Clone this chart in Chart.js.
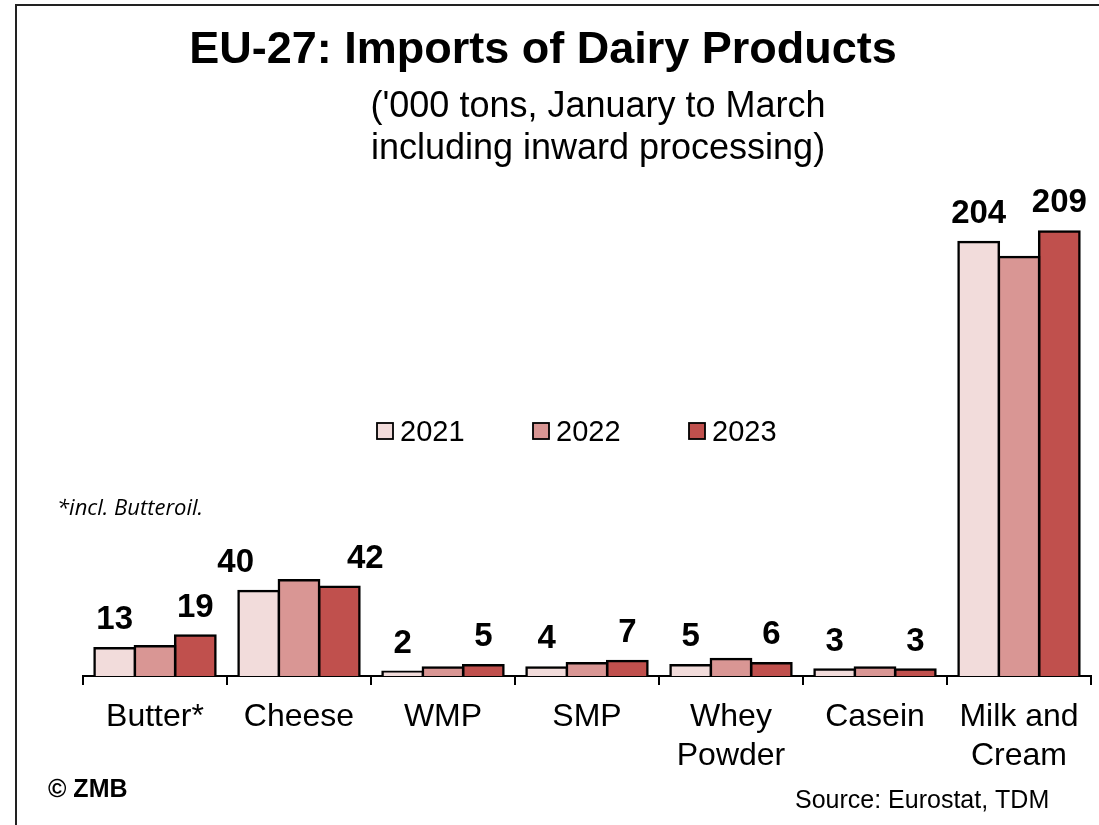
<!DOCTYPE html>
<html>
<head>
<meta charset="utf-8">
<title>EU-27: Imports of Dairy Products</title>
<script src="https://cdn.jsdelivr.net/npm/chart.js@4.4.0/dist/chart.umd.min.js"></script>
<style>
    body { margin: 0; background: #fff; }
    canvas { display: block; }
</style>
</head>
<body>
<canvas id="dairy_chart" width="1099" height="825"></canvas>
<script>

    // '000 tons, January to March (2022 is not labelled)
    const categories = ['Butter*', 'Cheese', 'WMP', 'SMP', ['Whey', 'Powder'], 'Casein', ['Milk and', 'Cream']];
    const years = ['2021', '2022', '2023'];
    const imports2021 = [13, 40, 2, 4, 5, 3, 204];
    const imports2022 = [14, 45, 4, 6, 8, 4, 197];
    const imports2023 = [19, 42, 5, 7, 6, 3, 209];
    const labelledSeries = [0, 2];   // only 2021 and 2023 carry value labels
    const yMax = 220;

    const FONT = '"Liberation Sans", Arial, sans-serif';
    const COLORS = ['#f2dcdb', '#d99694', '#c0504d'];

    const dairy = document.getElementById('dairy_chart').getContext('2d');

    // title, notes, value labels, legend and the frame line
    const decorations = {
        id: 'decorations',
        afterDraw(chart) {
            const ctx = chart.ctx;
            ctx.save();

            // frame (left + top edge of the original slide box)
            ctx.strokeStyle = '#222';
            ctx.lineWidth = 2;
            ctx.beginPath();
            ctx.moveTo(16, 825);
            ctx.lineTo(16, 5);
            ctx.lineTo(1099, 5);
            ctx.stroke();

            ctx.fillStyle = '#000';
            ctx.textBaseline = 'alphabetic';
            ctx.textAlign = 'center';
            ctx.font = 'bold 45px ' + FONT;
            ctx.fillText('EU-27: Imports of Dairy Products', 543, 63);
            ctx.font = '36px ' + FONT;
            ctx.fillText("('000 tons, January to March", 598, 117);
            ctx.fillText('including inward processing)', 598, 159);

            // value labels
            ctx.font = 'bold 33px ' + FONT;
            const mid = chart.data.datasets[1].data;
            labelledSeries.forEach(function(di) {
                const values = chart.data.datasets[di].data;
                chart.getDatasetMeta(di).data.forEach(function(bar, i) {
                    let x = bar.x;
                    // pushed aside when a tall 2022 bar sits between them (as in the original)
                    if (mid[i] > values[i] && values[i] > 20 && values[i] < 100) {
                        x += di === 0 ? -23 : 26;
                    }
                    ctx.fillText(values[i], x, bar.y - 19);
                });
            });

            // legend
            ctx.textAlign = 'left';
            ctx.font = '29px ' + FONT;
            chart.data.datasets.forEach(function(ds, i) {
                const lx = 377 + i * 156;
                ctx.fillStyle = ds.backgroundColor;
                ctx.fillRect(lx, 423, 16, 16);
                ctx.strokeStyle = '#000';
                ctx.lineWidth = 1.8;
                ctx.strokeRect(lx, 423, 16, 16);
                ctx.fillStyle = '#000';
                ctx.fillText(ds.label, lx + 23, 441);
            });

            ctx.font = 'italic 22px "Open Sans", sans-serif';
            ctx.fillText('*incl. Butteroil.', 57, 515);
            ctx.font = 'bold 25px ' + FONT;
            ctx.fillText('\u00A9 ZMB', 48, 797);
            ctx.font = '25px ' + FONT;
            ctx.fillText('Source: Eurostat, TDM', 795, 808);

            ctx.restore();
        }
    };

    const seriesData = [imports2021, imports2022, imports2023];

    const dairyChart = new Chart(dairy, {
        type: 'bar',
        data: {
            labels: categories,
            datasets: years.map(function(year, i) {
                return {
                    label: year,
                    data: seriesData[i],
                    backgroundColor: COLORS[i],
                    borderColor: '#000',
                    borderWidth: 2.5,
                    inflateAmount: 1.25,
                    categoryPercentage: 0.84,
                    barPercentage: 1.0
                };
            })
        },
        options: {
            responsive: false,
            animation: false,
            layout: {
                padding: { top: 208, left: 83, right: 8, bottom: 0 }
            },
            scales: {
                x: {
                    offset: true,
                    grid: {
                        offset: true,
                        drawOnChartArea: false,
                        drawTicks: true,
                        tickLength: 9,
                        color: '#000',
                        lineWidth: 2
                    },
                    border: { display: true, color: '#000', width: 2 },
                    ticks: {
                        color: '#000',
                        padding: 13,
                        maxRotation: 0,
                        autoSkip: false,
                        font: { family: FONT, size: 32, lineHeight: 1.22 }
                    },
                    afterFit: function(scale) {
                        scale.height = 149;
                        scale.paddingLeft = 0;
                        scale.paddingRight = 0;
                    }
                },
                y: {
                    display: false,
                    min: 0,
                    max: yMax
                }
            },
            plugins: {
                legend: { display: false },
                tooltip: { enabled: false },
                title: { display: false }
            }
        },
        plugins: [decorations]
    });

</script>
</body>
</html>
